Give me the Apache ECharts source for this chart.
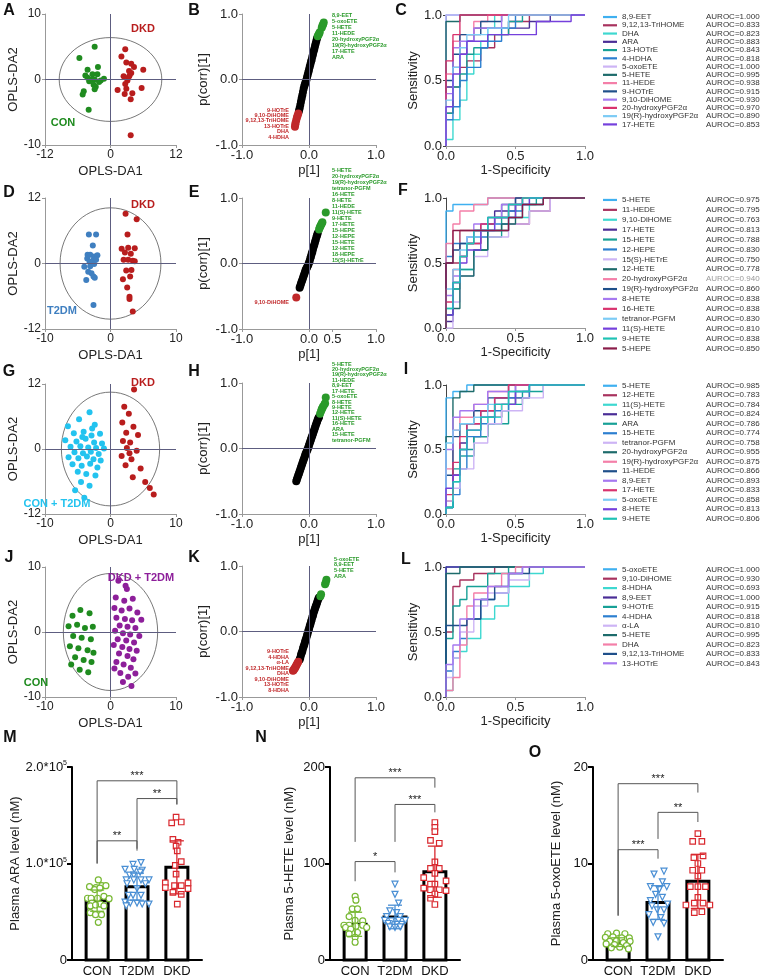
<!DOCTYPE html>
<html>
<head>
<meta charset="utf-8">
<title>OPLS-DA, ROC and plasma levels</title>
<script src="https://cdn.jsdelivr.net/npm/echarts@6.0.0/dist/echarts.min.js"></script>
<style>
html, body { margin: 0; padding: 0; background: #fff; }
#main { width: 760px; height: 978px; }
</style>
</head>
<body>
<div id="main"></div>
<script>
var FONT = '"Liberation Sans", Arial, Helvetica, sans-serif';

// ---------- OPLS-DA score plots: [t1, t2] per sample
var scoreA_CON = [[-2.9,5.0],[-5.7,3.3],[-2.3,1.9],[-4.2,1.5],[-3.3,0.8],[-2.4,0.8],[-4.2,0.25],[-3.5,0],[-2.9,0],[-1.8,-0.15],[-1.2,0.1],[-2.1,-0.4],[-3.9,-0.25],[-3.1,-0.8],[-2.7,-1.1],[-2.9,-1.5],[-4.9,-1.8],[-5.1,-2.3],[-4.0,-4.6],[-4.6,0.6]];
var scoreA_DKD = [[2.7,4.6],[2.0,3.5],[2.9,2.6],[3.8,2.4],[4.3,1.9],[6.0,1.5],[3.4,1.3],[3.8,1.0],[3.5,0.6],[3.1,-0.15],[2.7,-0.7],[1.3,-1.6],[2.9,-1.4],[4.0,-2.1],[2.6,-2.2],[3.7,-3.0],[5.7,-1.3],[3.7,-8.5],[3.3,0.3],[2.4,0.5]];
var scoreD_T2DM = [[-3.3,5.3],[-2.2,5.3],[-2.7,3.3],[-3.5,1.6],[-3.1,1.6],[-2.5,1.3],[-2.0,1.5],[-3.55,0.9],[-2.6,0.7],[-2.2,0.7],[-4.0,-0.6],[-3.1,-0.5],[-2.5,-0.1],[-3.4,-1.5],[-2.9,-1.8],[-3.7,-3.0],[-2.4,-2.6],[-2.6,-2.4],[-2.6,-7.6],[-3.2,0.3]];
var scoreD_DKD = [[2.3,9.1],[4.0,8.1],[2.6,5.3],[1.7,2.7],[2.7,2.9],[3.7,2.8],[2.0,0.7],[2.7,0.7],[3.4,0.5],[3.7,0.4],[2.4,-1.3],[3.2,-1.2],[1.9,-2.9],[3.0,-2.4],[2.55,-4.4],[2.9,-6.1],[2.9,-6.5],[3.4,-8.8],[2.2,2.0],[3.1,1.8]];
var scoreG_CT = [[-6.5,4.2],[-4.8,5.5],[-3.2,6.8],[-2.4,4.5],[-5.6,2.9],[-4.1,3.2],[-2.9,2.5],[-1.6,2.8],[-6.9,1.6],[-5.2,1.4],[-3.8,1.9],[-2.5,1.2],[-1.3,1.0],[-6.1,0.4],[-4.6,0.5],[-3.4,0.3],[-2.2,0.2],[-1.0,0.1],[-5.5,-0.6],[-4.2,-0.8],[-3.0,-0.5],[-1.8,-0.9],[-6.4,-1.5],[-4.9,-1.7],[-3.6,-1.4],[-2.6,-1.9],[-1.5,-2.1],[-5.8,-2.8],[-4.4,-3.1],[-3.1,-2.7],[-2.0,-3.4],[-5.0,-4.2],[-3.7,-4.6],[-2.3,-4.9],[-4.5,-6.1],[-3.2,-6.8],[-5.4,-7.6],[-4.0,-9.0],[-2.8,3.8],[-4.3,2.2]];
var scoreG_DKD = [[3.6,11.0],[2.1,7.8],[2.8,6.5],[1.8,4.9],[3.5,4.1],[2.4,3.0],[4.2,2.6],[1.9,1.5],[3.0,1.2],[2.5,0.2],[4.0,-0.3],[1.7,-1.3],[3.2,-1.9],[2.3,-3.0],[4.6,-3.6],[3.4,-5.2],[5.3,-6.1],[6.0,-7.2],[6.6,-8.4],[2.9,-0.8]];
var scoreJ_CON = [[-5.8,2.5],[-4.6,3.4],[-3.2,2.9],[-6.4,0.9],[-5.1,1.1],[-3.9,0.6],[-2.7,0.8],[-5.7,-0.6],[-4.4,-0.9],[-3.0,-1.1],[-6.2,-2.2],[-4.9,-2.5],[-3.5,-2.8],[-5.4,-3.9],[-4.1,-4.3],[-2.9,-4.6],[-4.7,-5.8],[-3.4,-6.2],[-6.0,-5.0],[-2.6,-3.2]];
var scoreJ_DT = [[1.2,7.9],[2.5,6.6],[0.8,5.3],[2.1,4.8],[3.4,5.1],[0.6,3.7],[1.7,3.3],[2.9,3.6],[4.1,3.0],[0.9,2.2],[2.2,2.0],[3.3,1.8],[1.4,1.0],[2.6,0.8],[3.8,0.6],[0.7,0.2],[1.9,-0.2],[3.0,-0.4],[4.4,-0.6],[1.1,-1.1],[2.4,-1.3],[3.6,-1.6],[0.5,-2.0],[1.8,-2.3],[2.9,-2.6],[4.0,-2.9],[1.3,-3.3],[2.6,-3.7],[3.5,-4.2],[0.9,-4.6],[2.0,-5.0],[3.1,-5.5],[1.5,-6.3],[2.7,-6.9],[1.9,-7.7],[3.8,-6.4],[0.6,-5.6],[4.7,1.9],[3.2,-8.3],[2.3,7.1]];
// Hotelling T2 ellipse half-axes [t1, t2]
var ellA = [9.4, 6.4], ellD = [7.7, 10.2], ellG = [7.5, 10.5], ellJ = [7.2, 9.0];

// ---------- S-plots: [p[1], p(corr)[1]]
var splotB_all = [[-0.15,-0.48],[-0.14,-0.44],[-0.13,-0.39],[-0.12,-0.34],[-0.11,-0.29],[-0.10,-0.24],[-0.09,-0.19],[-0.08,-0.14],[-0.07,-0.10],[-0.06,-0.07],[-0.05,-0.04],[-0.04,-0.01],[-0.03,0.03],[-0.02,0.07],[-0.01,0.11],[0.00,0.15],[0.01,0.19],[0.02,0.23],[0.03,0.27],[0.04,0.30],[0.05,0.35],[0.06,0.39],[0.07,0.43],[0.08,0.47],[0.09,0.51],[0.10,0.55],[0.11,0.59],[0.12,0.63]];
var splotB_down = [[-0.21,-0.72],[-0.205,-0.69],[-0.20,-0.66],[-0.19,-0.62],[-0.18,-0.58],[-0.17,-0.55],[-0.16,-0.52]];
var splotB_up = [[0.13,0.66],[0.14,0.68],[0.15,0.70],[0.16,0.72],[0.19,0.79],[0.20,0.82],[0.21,0.84],[0.22,0.87]];
var splotE_all = [[-0.14,-0.37],[-0.13,-0.34],[-0.12,-0.31],[-0.11,-0.28],[-0.10,-0.25],[-0.09,-0.22],[-0.08,-0.19],[-0.07,-0.16],[-0.06,-0.13],[-0.05,-0.10],[-0.04,-0.08],[-0.03,-0.06],[-0.02,-0.04],[-0.01,-0.02],[0,0.01],[0.01,0.04],[0.02,0.08],[0.03,0.11],[0.04,0.15],[0.05,0.18],[0.06,0.22],[0.07,0.26],[0.08,0.29],[0.09,0.33],[0.10,0.36],[0.11,0.40],[0.12,0.43],[0.13,0.46]];
var splotE_down = [[-0.19,-0.52]];
var splotE_up = [[0.15,0.52],[0.16,0.55],[0.17,0.57],[0.18,0.59],[0.19,0.61],[0.20,0.63],[0.25,0.78]];
var splotH_all = [[-0.19,-0.50],[-0.18,-0.47],[-0.17,-0.44],[-0.16,-0.41],[-0.15,-0.38],[-0.14,-0.35],[-0.13,-0.32],[-0.12,-0.29],[-0.11,-0.26],[-0.10,-0.23],[-0.09,-0.20],[-0.08,-0.17],[-0.07,-0.14],[-0.06,-0.11],[-0.05,-0.08],[-0.04,-0.06],[-0.03,-0.03],[-0.02,-0.01],[-0.01,0.02],[0,0.05],[0.01,0.08],[0.02,0.11],[0.03,0.14],[0.04,0.17],[0.05,0.20],[0.06,0.23],[0.07,0.26],[0.08,0.29],[0.09,0.32],[0.10,0.35],[0.11,0.38],[0.12,0.41],[0.13,0.44],[0.14,0.46],[0.15,0.48]];
var splotH_down = [];
var splotH_up = [[0.165,0.53],[0.18,0.57],[0.19,0.60],[0.20,0.62],[0.21,0.64],[0.23,0.67],[0.24,0.69],[0.25,0.78]];
var splotK_all = [[-0.14,-0.43],[-0.13,-0.40],[-0.12,-0.36],[-0.11,-0.33],[-0.10,-0.30],[-0.09,-0.26],[-0.08,-0.23],[-0.07,-0.20],[-0.06,-0.16],[-0.05,-0.13],[-0.04,-0.10],[-0.03,-0.06],[-0.02,-0.03],[-0.01,0.01],[0,0.04],[0.01,0.08],[0.02,0.11],[0.03,0.15],[0.04,0.18],[0.05,0.22],[0.06,0.25],[0.07,0.29],[0.08,0.32],[0.09,0.35],[0.10,0.38],[0.11,0.41],[0.12,0.44],[0.13,0.47],[0.14,0.50],[0.15,0.52]];
var splotK_down = [[-0.16,-0.46],[-0.17,-0.48],[-0.18,-0.50],[-0.19,-0.52],[-0.20,-0.54],[-0.21,-0.56],[-0.22,-0.57],[-0.23,-0.59],[-0.24,-0.60]];
var splotK_up = [[0.17,0.54],[0.18,0.57],[0.24,0.72],[0.25,0.75],[0.26,0.79]];
var tickE = [-1, 0, 0.35, 1];
var tickE_text = ['-1.0', '0.0', '0.5', '1.0'];
// S-plot variable labels
var labB_up = ['8,9-EET','5-oxoETE','5-HETE','11-HEDE','20-hydroxyPGF2α','19(R)-hydroxyPGF2α','17-HETE','ARA'];
var labB_down = ['9-HOTrE','9,10-DiHOME','9,12,13-TriHOME','13-HOTrE','DHA','4-HDHA'];
var labE_up = ['5-HETE','20-hydroxyPGF2α','19(R)-hydroxyPGF2α','tetranor-PGFM','16-HETE','8-HETE','11-HEDE','11(S)-HETE','9-HETE','17-HETE','15-HEPE','12-HEPE','15-HETE','12-HETE','18-HEPE','15(S)-HETrE'];
var labE_down = ['9,10-DiHOME'];
var labH_up = ['5-HETE','20-hydroxyPGF2α','19(R)-hydroxyPGF2α','11-HEDE','8,9-EET','17-HETE','5-oxoETE','8-HETE','9-HETE','12-HETE','11(S)-HETE','16-HETE','ARA','15-HETE','tetranor-PGFM'];
var labK_up = ['5-oxoETE','8,9-EET','5-HETE','ARA'];
var labK_down = ['9-HOTrE','4-HDHA','α-LA','9,12,13-TriHOME','DHA','9,10-DiHOME','13-HOTrE','8-HDHA'];

// ---------- ROC curves: [1-specificity, sensitivity] corner points
var rocPalette = ['#3fb0f0','#a8325e','#3ed8d0','#4a2d96','#17a096','#2c7fd0','#cdb4f5','#1d6b6b','#f47fa8','#1f4f8a','#a679f0','#d9336e','#7ccbf5','#7540dc','#1fc2b4','#8a1c4a'];
var rocC_names = ['8,9-EET','9,12,13-TriHOME','DHA','ARA','13-HOTrE','4-HDHA','5-oxoETE','5-HETE','11-HEDE','9-HOTrE','9,10-DiHOME','20-hydroxyPGF2α','19(R)-hydroxyPGF2α','17-HETE'];
var rocC_auc = [1.000,0.833,0.823,0.883,0.843,0.818,1.000,0.995,0.938,0.915,0.930,0.970,0.890,0.853];
var rocC_curves = [
  [[0,0],[0,1],[1,1]],
  [[0,0],[0,0.25],[0.05,0.45],[0.1,0.6],[0.15,0.65],[0.25,0.75],[0.35,0.85],[0.45,0.95],[0.6,1],[1,1]],
  [[0,0],[0,0.05],[0.05,0.2],[0.1,0.35],[0.15,0.55],[0.2,0.7],[0.25,0.8],[0.3,0.9],[0.35,1],[1,1]],
  [[0,0],[0,0.45],[0.05,0.6],[0.1,0.7],[0.15,0.8],[0.2,0.9],[0.6,0.95],[0.75,1],[1,1]],
  [[0,0],[0,0.25],[0.05,0.45],[0.1,0.55],[0.15,0.7],[0.2,0.75],[0.3,0.85],[0.45,0.95],[0.55,1],[1,1]],
  [[0,0],[0,0.2],[0.05,0.3],[0.1,0.5],[0.15,0.6],[0.25,0.75],[0.3,0.8],[0.4,0.9],[0.5,1],[1,1]],
  [[0,0],[0,1],[1,1]],
  [[0,0],[0,0.95],[0.1,1],[1,1]],
  [[0,0],[0,0.55],[0.05,0.8],[0.1,0.85],[0.2,0.95],[0.3,1],[1,1]],
  [[0,0],[0,0.5],[0.05,0.7],[0.1,0.85],[0.25,0.95],[0.4,1],[1,1]],
  [[0,0],[0,0.4],[0.05,0.75],[0.1,0.8],[0.2,0.9],[0.4,1],[1,1]],
  [[0,0],[0,0.65],[0.05,0.85],[0.1,1],[1,1]],
  [[0,0],[0,0.35],[0.05,0.6],[0.1,0.75],[0.15,0.85],[0.3,0.9],[0.45,1],[1,1]],
  [[0,0],[0,0.3],[0.05,0.55],[0.1,0.7],[0.15,0.8],[0.3,0.85],[0.65,0.95],[0.9,1],[1,1]]
];
var rocF_names = ['5-HETE','11-HEDE','9,10-DiHOME','17-HETE','15-HETE','12-HEPE','15(S)-HETrE','12-HETE','20-hydroxyPGF2α','19(R)-hydroxyPGF2α','8-HETE','16-HETE','tetranor-PGFM','11(S)-HETE','9-HETE','5-HEPE'];
var rocF_auc = [0.975,0.795,0.763,0.813,0.788,0.830,0.750,0.778,0.940,0.860,0.838,0.838,0.830,0.810,0.838,0.850];
var rocF_curves = [
  [[0,0],[0,0.9],[0.05,0.95],[0.3,1],[1,1]],
  [[0,0],[0,0.5],[0.1,0.75],[0.45,0.8],[0.6,0.9],[0.75,1],[1,1]],
  [[0,0],[0,0.15],[0.05,0.3],[0.1,0.45],[0.2,0.6],[0.3,0.75],[0.45,0.85],[0.6,0.95],[0.7,1],[1,1]],
  [[0,0],[0,0.05],[0.05,0.35],[0.1,0.55],[0.15,0.65],[0.25,0.8],[0.35,0.9],[0.5,1],[1,1]],
  [[0,0],[0,0.1],[0.05,0.3],[0.1,0.45],[0.2,0.6],[0.3,0.7],[0.4,0.85],[0.55,0.95],[0.65,1],[1,1]],
  [[0,0],[0,0.55],[0.05,0.65],[0.15,0.7],[0.3,0.8],[0.45,0.9],[0.55,1],[1,1]],
  [[0,0],[0.05,0.2],[0.1,0.4],[0.2,0.55],[0.3,0.7],[0.45,0.8],[0.6,0.9],[0.75,1],[1,1]],
  [[0,0],[0,0.1],[0.05,0.15],[0.1,0.4],[0.2,0.6],[0.3,0.75],[0.4,0.8],[0.5,0.95],[0.7,1],[1,1]],
  [[0,0],[0,0.65],[0.05,0.8],[0.1,0.9],[0.2,0.95],[0.3,1],[1,1]],
  [[0,0],[0,0.5],[0.05,0.6],[0.1,0.65],[0.2,0.75],[0.3,0.85],[0.4,0.95],[0.5,1],[1,1]],
  [[0,0],[0,0.25],[0.05,0.4],[0.1,0.55],[0.15,0.7],[0.2,0.8],[0.3,0.85],[0.4,0.95],[0.55,1],[1,1]],
  [[0,0],[0,0.2],[0.05,0.45],[0.1,0.55],[0.15,0.65],[0.25,0.8],[0.35,0.85],[0.45,0.95],[0.55,1],[1,1]],
  [[0,0],[0,0.3],[0.05,0.45],[0.1,0.6],[0.15,0.7],[0.25,0.75],[0.35,0.85],[0.45,0.95],[0.6,1],[1,1]],
  [[0,0],[0,0.1],[0.05,0.35],[0.1,0.5],[0.15,0.6],[0.25,0.75],[0.35,0.85],[0.5,0.95],[0.6,1],[1,1]],
  [[0,0],[0,0.15],[0.05,0.35],[0.1,0.55],[0.15,0.65],[0.2,0.75],[0.3,0.85],[0.45,0.95],[0.55,1],[1,1]],
  [[0,0],[0,0.5],[0.05,0.75],[0.45,0.85],[0.55,0.95],[0.7,1],[1,1]]
];
var rocI_names = ['5-HETE','12-HETE','11(S)-HETE','16-HETE','ARA','15-HETE','tetranor-PGFM','20-hydroxyPGF2α','19(R)-hydroxyPGF2α','11-HEDE','8,9-EET','17-HETE','5-oxoETE','8-HETE','9-HETE'];
var rocI_auc = [0.985,0.783,0.784,0.824,0.786,0.774,0.758,0.955,0.875,0.866,0.893,0.833,0.858,0.813,0.806];
var rocI_curves = [
  [[0,0],[0,0.9],[0.05,0.95],[0.15,1],[1,1]],
  [[0,0],[0,0.1],[0.05,0.3],[0.1,0.45],[0.2,0.6],[0.3,0.75],[0.4,0.85],[0.5,0.9],[0.6,1],[1,1]],
  [[0,0],[0,0.05],[0.05,0.25],[0.1,0.45],[0.2,0.6],[0.3,0.75],[0.4,0.85],[0.5,0.95],[0.6,1],[1,1]],
  [[0,0],[0,0.05],[0.05,0.3],[0.1,0.55],[0.15,0.7],[0.25,0.8],[0.35,0.9],[0.5,1],[1,1]],
  [[0,0],[0,0.05],[0.05,0.35],[0.1,0.5],[0.2,0.6],[0.3,0.7],[0.45,0.85],[0.55,0.95],[0.7,1],[1,1]],
  [[0,0],[0,0.05],[0.05,0.15],[0.1,0.35],[0.15,0.6],[0.25,0.7],[0.35,0.8],[0.45,0.9],[0.6,1],[1,1]],
  [[0,0],[0,0.1],[0.05,0.2],[0.1,0.35],[0.2,0.55],[0.3,0.7],[0.4,0.8],[0.55,0.9],[0.7,1],[1,1]],
  [[0,0],[0,0.6],[0.05,0.9],[0.1,0.95],[0.2,1],[1,1]],
  [[0,0],[0,0.35],[0.05,0.65],[0.1,0.75],[0.2,0.85],[0.3,0.95],[0.45,1],[1,1]],
  [[0,0],[0,0.3],[0.05,0.6],[0.1,0.7],[0.2,0.8],[0.3,0.9],[0.45,1],[1,1]],
  [[0,0],[0,0.5],[0.05,0.75],[0.1,0.8],[0.2,0.85],[0.3,0.95],[0.5,1],[1,1]],
  [[0,0],[0,0.15],[0.05,0.4],[0.1,0.6],[0.15,0.7],[0.25,0.8],[0.35,0.9],[0.45,1],[1,1]],
  [[0,0],[0,0.55],[0.05,0.65],[0.1,0.7],[0.2,0.75],[0.3,0.85],[0.45,0.95],[0.6,1],[1,1]],
  [[0,0],[0,0.2],[0.05,0.3],[0.1,0.5],[0.15,0.65],[0.25,0.75],[0.35,0.85],[0.5,0.95],[0.6,1],[1,1]],
  [[0,0],[0,0.05],[0.05,0.25],[0.1,0.5],[0.15,0.65],[0.25,0.75],[0.35,0.85],[0.45,0.95],[0.6,1],[1,1]]
];
var rocL_names = ['5-oxoETE','9,10-DiHOME','8-HDHA','8,9-EET','9-HOTrE','4-HDHA','α-LA','5-HETE','DHA','9,12,13-TriHOME','13-HOTrE'];
var rocL_auc = [1.000,0.930,0.693,1.000,0.915,0.818,0.810,0.995,0.823,0.833,0.843];
var rocL_curves = [
  [[0,0],[0,1],[1,1]],
  [[0,0],[0,0.5],[0.05,0.85],[0.1,0.9],[0.2,0.95],[0.35,1],[1,1]],
  [[0,0],[0,0.05],[0.05,0.3],[0.1,0.35],[0.15,0.45],[0.25,0.6],[0.35,0.7],[0.45,0.85],[0.6,0.95],[0.7,1],[1,1]],
  [[0,0],[0,1],[1,1]],
  [[0,0],[0,0.45],[0.05,0.7],[0.1,0.75],[0.15,0.85],[0.3,0.95],[0.45,1],[1,1]],
  [[0,0],[0,0.2],[0.05,0.35],[0.1,0.45],[0.15,0.6],[0.25,0.75],[0.35,0.8],[0.45,0.95],[0.55,1],[1,1]],
  [[0,0],[0,0.15],[0.05,0.3],[0.1,0.5],[0.2,0.7],[0.3,0.8],[0.45,0.9],[0.6,1],[1,1]],
  [[0,0],[0,0.95],[0.1,1],[1,1]],
  [[0,0],[0,0.05],[0.05,0.15],[0.1,0.4],[0.15,0.7],[0.2,0.8],[0.3,0.85],[0.4,0.95],[0.5,1],[1,1]],
  [[0,0],[0,0.55],[0.15,0.6],[0.25,0.75],[0.35,0.85],[0.45,0.95],[0.6,1],[1,1]],
  [[0,0],[0,0.25],[0.05,0.4],[0.1,0.6],[0.2,0.75],[0.3,0.85],[0.45,0.95],[0.55,1],[1,1]]
];

// ---------- plasma levels: [jitter offset, value] per subject
var groups = ['CON', 'T2DM', 'DKD'];
var araMean = [61500, 76000, 96000], araSD = [11000, 14000, 27500];
var araCON = [[0.03,83000],[-0.19,76000],[-0.03,75000],[0.12,77000],[0.22,77000],[-0.06,73000],[0.07,74500],[-0.24,64000],[-0.15,64000],[0.01,64000],[0.17,66000],[0.30,63500],[-0.13,59000],[0.08,58000],[-0.17,56000],[-0.04,57000],[0.17,56000],[-0.17,49000],[-0.04,47000],[0.11,47000],[0.03,39000]];
var araT2DM = [[0.10,101000],[-0.10,99000],[-0.30,94000],[-0.07,94000],[0.13,93000],[0.08,91000],[-0.19,88000],[-0.08,88000],[-0.27,83000],[-0.08,83000],[0.10,83000],[0.30,83000],[-0.25,79000],[0.21,79000],[0.0,74000],[-0.21,67000],[-0.10,67000],[0.10,67000],[-0.30,60000],[-0.17,59000],[0.0,59000],[0.13,58000],[0.30,58000],[-0.27,56000]];
var araDKD = [[-0.02,148000],[-0.13,142000],[0.11,143000],[-0.10,125000],[0.03,122000],[-0.02,118000],[0.01,113000],[0.11,102000],[-0.04,98000],[-0.02,89000],[-0.29,80000],[-0.29,75000],[-0.06,77000],[0.11,77000],[0.28,80000],[0.28,74000],[-0.10,70000],[0.11,68000],[0.01,58000]];
var hete5Mean = [37, 44.6, 91.5], hete5SD = [12.5, 12.2, 26.5];
var hete5CON = [[0,66],[0.02,62],[-0.07,53],[0.06,53],[-0.15,45],[0,41],[0.19,40.5],[-0.28,36],[-0.15,36],[0.02,35],[0.19,36],[0.29,33.7],[-0.24,33.7],[-0.11,32],[0.06,28.5],[0,23.5],[0,18.4],[-0.15,27]];
var hete5T2DM = [[0,78.6],[0,68],[0.09,59],[-0.13,51],[0.04,49],[-0.21,45],[0.13,45],[-0.26,41],[-0.09,40.5],[0.09,41],[0.26,41],[-0.17,37.8],[0.04,37],[0.17,37],[-0.13,34.4],[0,33.7],[0.13,34.4]];
var hete5DKD = [[0,142.5],[0,137.4],[0,133],[-0.11,124],[0.11,121],[0,101.7],[-0.11,95],[0.11,95],[0,89.8],[-0.28,85.4],[0.28,82],[-0.11,78.6],[0,78.6],[-0.28,74.5],[-0.11,72.8],[0.11,72.8],[0.28,71.8],[0,68.4],[-0.11,64],[0,57.5]];
var oxoMean = [1.85, 5.95, 8.15], oxoSD = [0.45, 1.75, 2.8];
var oxoCON = [[-0.26,2.72],[-0.04,2.78],[0.17,2.72],[-0.32,2.35],[-0.13,2.4],[0.09,2.3],[0.28,2.3],[-0.21,1.94],[-0.04,2.0],[0.13,1.8],[0.3,1.94],[-0.3,1.67],[-0.09,1.6],[0.21,1.5],[-0.17,1.26],[0.04,1.33],[0.26,1.15]];
var oxoT2DM = [[0.15,9.2],[-0.10,8.9],[0.11,8.1],[-0.19,7.6],[0.22,7.6],[0.03,7.3],[-0.06,6.8],[0.11,6.5],[-0.19,6.15],[0.24,5.8],[-0.15,5.6],[-0.02,5.2],[0.15,5.2],[-0.23,4.7],[0.07,4.4],[-0.12,3.9],[0.15,3.8],[0,2.4]];
var oxoDKD = [[0,13.1],[-0.13,12.3],[0.10,12.3],[-0.10,10.6],[0.13,10.8],[0,10.0],[-0.13,9.3],[0.10,9.3],[0,8.7],[-0.19,7.6],[0,7.6],[0.19,7.6],[0,6.5],[-0.09,5.9],[0.13,5.9],[-0.30,5.7],[0.30,5.7],[-0.09,4.9],[0.10,5.0]];
// significance brackets: [group a, group b, bar level, leg end a, leg end b]
var sigM = [[0,2,185700,100000,161200],[1,2,167300,115300,161200],[0,1,123500,100000,113300]];
var starsM = ['***','**','**'];
var sigN = [[0,2,188.8,122.4,178.6],[1,2,161.2,122.4,153],[0,1,102,81.6,90.8]];
var starsN = ['***','***','*'];
var sigO = [[0,2,18.27,4.6,17.35],[1,2,15.3,12.55,14.3],[0,1,11.43,4.6,10.5]];
var starsO = ['***','**','***'];

// ---------- builders
var grids = [], xAxes = [], yAxes = [], series = [], legends = [], graphics = [];
var nameText = {fontSize: 13, color: '#222', fontFamily: FONT};

function addGrid(b) {
  grids.push({left: b[0], top: b[1], width: b[2], height: b[3], containLabel: false});
  return grids.length - 1;
}
function axis(g, color, fs, extra) {
  var a = {
    gridIndex: g, type: 'value', nameLocation: 'middle', nameTextStyle: nameText,
    splitLine: {show: false},
    axisLine: {show: true, onZero: false, lineStyle: {color: color, width: 1}},
    axisTick: {show: true, length: 3, lineStyle: {color: color}},
    axisLabel: {fontSize: fs, color: '#222', fontFamily: FONT, margin: 4}
  };
  return Object.assign(a, extra);
}
function one(v) { return v.toFixed(1); }

var crossLine = {
  silent: true, symbol: ['none', 'none'], label: {show: false}, animation: false,
  lineStyle: {color: '#5d5d80', width: 1, type: 'solid'},
  data: [{xAxis: 0}, {yAxis: 0}]
};

function ellipseItem(params, api) {
  var c = api.coord([api.value(0), api.value(1)]);
  var s = api.size([api.value(2), api.value(3)]);
  return {type: 'ellipse', shape: {cx: c[0], cy: c[1], rx: s[0], ry: s[1]},
    style: {fill: 'none', stroke: '#555', lineWidth: 0.8}};
}

function scorePanel(box, xr, yr, sets, colors, ell) {
  var g = addGrid(box);
  xAxes.push(axis(g, '#999', 12, {min: -xr, max: xr, interval: xr, name: 'OPLS-DA1', nameGap: 20}));
  yAxes.push(axis(g, '#999', 12, {min: -yr, max: yr, interval: yr, name: 'OPLS-DA2', nameGap: 17}));
  series.push({type: 'custom', xAxisIndex: g, yAxisIndex: g, silent: true, z: 1,
    data: [[0, 0, ell[0], ell[1]]], renderItem: ellipseItem});
  sets.forEach(function (pts, i) {
    var s = {type: 'scatter', xAxisIndex: g, yAxisIndex: g, silent: true, z: 3, symbolSize: 6,
      itemStyle: {color: colors[i], opacity: 1}, data: pts};
    if (i === 0) s.markLine = crossLine;
    series.push(s);
  });
}

function splotPanel(box, sets, xTicks, xTickText) {
  var g = addGrid(box);
  var xl = {min: -1, max: 1, interval: 1, name: 'p[1]', nameGap: 19};
  var xa = axis(g, '#999', 13, xl);
  if (xTicks) {
    xa.axisLabel.customValues = xTicks;
    xa.axisLabel.formatter = function (v) { return xTickText[xTicks.indexOf(v)]; };
    xa.axisTick.customValues = xTicks;
  } else {
    xa.axisLabel.formatter = one;
  }
  xAxes.push(xa);
  var ya = axis(g, '#999', 13, {min: -1, max: 1, interval: 1, name: 'p(corr)[1]', nameGap: 32});
  ya.axisLabel.formatter = one;
  yAxes.push(ya);
  var cols = ['#000', '#c0282a', '#2a9a2a'];
  sets.forEach(function (pts, i) {
    var s = {type: 'scatter', xAxisIndex: g, yAxisIndex: g, silent: true, z: 3 + i, symbolSize: 8,
      itemStyle: {color: cols[i], opacity: 1}, data: pts};
    if (i === 0) s.markLine = crossLine;
    series.push(s);
  });
}

function rocPanel(box, key, names, auc, curves, legendTop, step) {
  var g = addGrid(box);
  var xa = axis(g, '#999', 13, {min: 0, max: 1, interval: 0.5, name: '1-Specificity', nameGap: 17});
  xa.axisLabel.formatter = one;
  var ya = axis(g, '#444', 13, {min: 0, max: 1, interval: 0.5, name: 'Sensitivity', nameGap: 24});
  ya.axisLabel.formatter = one;
  xAxes.push(xa); yAxes.push(ya);
  names.forEach(function (n, i) {
    var c = rocPalette[i];
    series.push({type: 'line', name: key + '|' + n, xAxisIndex: g, yAxisIndex: g, data: curves[i],
      step: 'end', symbol: 'none', showSymbol: false, clip: false, silent: true, z: 2,
      lineStyle: {width: 1.4, color: c}, itemStyle: {color: c}});
  });
  legends.push({
    data: names.map(function (n) { return key + '|' + n; }),
    orient: 'vertical', left: 603, top: legendTop, padding: 0, itemGap: 0,
    itemWidth: 14, itemHeight: 2.2, icon: 'rect', selectedMode: false,
    formatter: function (name) {
      var n = name.split('|')[1];
      var v = auc[names.indexOf(n)].toFixed(3);
      var grey = (key === 'F' && n === '20-hydroxyPGF2α');
      return '{n|' + n + '}{' + (grey ? 'g' : 'v') + '|AUROC=' + v + '}';
    },
    textStyle: {fontSize: 8, fontFamily: FONT, color: '#333', lineHeight: step,
      rich: {n: {width: 84, fontSize: 8, fontFamily: FONT, color: '#333', lineHeight: step},
             v: {fontSize: 8, fontFamily: FONT, color: '#333', lineHeight: step},
             g: {fontSize: 8, fontFamily: FONT, color: '#999', lineHeight: step}}}
  });
}

function barItem(params, api) {
  var x = api.value(0), m = api.value(1);
  var top = api.coord([x, m]), base = api.coord([x, 0]);
  var w = 22;
  return {type: 'rect', shape: {x: top[0] - w / 2, y: top[1], width: w, height: base[1] - top[1]},
    style: {fill: '#fff', stroke: '#000', lineWidth: 3}};
}
function errItem(params, api) {
  var x = api.value(0), m = api.value(1), sd = api.value(2);
  var hi = api.coord([x, m + sd]), lo = api.coord([x, m - sd]);
  var st = {stroke: api.visual('color'), lineWidth: 1.3};
  return {type: 'group', children: [
    {type: 'line', shape: {x1: hi[0], y1: hi[1], x2: lo[0], y2: lo[1]}, style: st},
    {type: 'line', shape: {x1: hi[0] - 7, y1: hi[1], x2: hi[0] + 7, y2: hi[1]}, style: st},
    {type: 'line', shape: {x1: lo[0] - 7, y1: lo[1], x2: lo[0] + 7, y2: lo[1]}, style: st}
  ]};
}
function bracketRenderer(stars) {
  return function (params, api) {
    var a = api.coord([api.value(0), api.value(2)]), b = api.coord([api.value(1), api.value(2)]);
    var la = api.coord([api.value(0), api.value(3)]), lb = api.coord([api.value(1), api.value(4)]);
    return {type: 'group', children: [
      {type: 'polyline', shape: {points: [la, a, b, lb]}, style: {stroke: '#555', lineWidth: 1, fill: null}},
      {type: 'text', x: (a[0] + b[0]) / 2, y: a[1] + 1,
        style: {text: stars[params.dataIndex], fill: '#222', font: '11px ' + FONT,
          align: 'center', textAlign: 'center', verticalAlign: 'bottom', textVerticalAlign: 'bottom'}}
    ]};
  };
}

var barColors = ['#78b833', '#4a8fd4', '#d9282e'];
var barSymbols = ['circle', 'triangle', 'rect'];

function barPanel(box, yMax, yStep, yName, nameGap, fmt, means, sds, sets, sig, stars) {
  var g = addGrid(box);
  xAxes.push({gridIndex: g, type: 'value', min: -0.63, max: 2.63, splitLine: {show: false},
    axisLine: {show: true, onZero: false, lineStyle: {color: '#000', width: 2}},
    axisTick: {show: false},
    axisLabel: {customValues: [0, 1, 2], formatter: function (v) { return groups[Math.round(v)]; },
      fontSize: 13, color: '#111', fontFamily: FONT, margin: 5}});
  yAxes.push({gridIndex: g, type: 'value', min: 0, max: yMax, interval: yStep, splitLine: {show: false},
    name: yName, nameLocation: 'middle', nameGap: nameGap, nameTextStyle: nameText,
    axisLine: {show: true, onZero: false, lineStyle: {color: '#000', width: 2}},
    axisTick: {show: true, length: 5, lineStyle: {color: '#000', width: 2}},
    axisLabel: {formatter: fmt, fontSize: 13, color: '#111', fontFamily: FONT, margin: 5,
      rich: {s: {fontSize: 7, fontFamily: FONT, color: '#111', padding: [0, 0, 7, 0]}}}});
  series.push({type: 'custom', xAxisIndex: g, yAxisIndex: g, silent: true, z: 2,
    data: means.map(function (m, i) { return [i, m]; }), renderItem: barItem});
  sets.forEach(function (pts, i) {
    series.push({type: 'scatter', xAxisIndex: g, yAxisIndex: g, silent: true, z: 3,
      symbol: barSymbols[i], symbolRotate: i === 1 ? 180 : 0, symbolSize: i === 2 ? 5.5 : 6,
      itemStyle: {color: '#fff', borderColor: barColors[i], borderWidth: 1.2, opacity: 1},
      data: pts.map(function (p) { return [i + p[0], p[1]]; })});
  });
  series.push({type: 'custom', xAxisIndex: g, yAxisIndex: g, silent: true, z: 4,
    data: means.map(function (m, i) { return {value: [i, m, sds[i]], itemStyle: {color: barColors[i]}}; }),
    renderItem: errItem});
  series.push({type: 'custom', xAxisIndex: g, yAxisIndex: g, silent: true, z: 4, clip: false,
    data: sig, renderItem: bracketRenderer(stars)});
}

function addText(txt, x, y, font, color, align, vAlign, lh) {
  graphics.push({type: 'text', x: x, y: y, silent: true, z: 10,
    style: {text: txt, font: font, fill: color, lineHeight: lh,
      align: align, textAlign: align, verticalAlign: vAlign, textVerticalAlign: vAlign}});
}

// ---------- panels
var GREEN = '#1f8b1f', RED = '#b81d1d', BLUE = '#3f7fc0', CYAN = '#23c3ef', PURPLE = '#8d1f9a';
scorePanel([45, 14, 131, 131], 12, 10, [scoreA_CON, scoreA_DKD], [GREEN, RED], ellA);
splotPanel([242, 14, 134, 131], [splotB_all, splotB_down, splotB_up]);
rocPanel([446, 15, 139, 131], 'C', rocC_names, rocC_auc, rocC_curves, 12.9, 8.26);

scorePanel([45, 198, 131, 131], 10, 12, [scoreD_T2DM, scoreD_DKD], [BLUE, RED], ellD);
splotPanel([242, 198, 134, 131], [splotE_all, splotE_down, splotE_up], tickE, tickE_text);
rocPanel([446, 198, 139, 130], 'F', rocF_names, rocF_auc, rocF_curves, 195, 9.9);

scorePanel([45, 384, 131, 130], 10, 12, [scoreG_CT, scoreG_DKD], [CYAN, RED], ellG);
splotPanel([242, 383, 134, 131], [splotH_all, splotH_down, splotH_up]);
rocPanel([446, 385, 139, 129], 'I', rocI_names, rocI_auc, rocI_curves, 381, 9.5);

scorePanel([45, 567, 131, 130], 10, 10, [scoreJ_CON, scoreJ_DT], [GREEN, PURPLE], ellJ);
splotPanel([242, 566, 134, 131], [splotK_all, splotK_down, splotK_up]);
rocPanel([446, 567, 139, 130], 'L', rocL_names, rocL_auc, rocL_curves, 564.6, 9.4);

barPanel([72, 767, 130, 196], 200000, 100000, 'Plasma ARA level (nM)', 46,
  function (v) { return v === 0 ? '0' : (v / 100000).toFixed(1) + '*10{s|5}'; },
  araMean, araSD, [araCON, araT2DM, araDKD], sigM, starsM);
barPanel([330, 767, 130, 196], 200, 100, 'Plasma 5-HETE level (nM)', 34,
  function (v) { return String(v); },
  hete5Mean, hete5SD, [hete5CON, hete5T2DM, hete5DKD], sigN, starsN);
barPanel([593, 767, 130, 196], 20, 10, 'Plasma 5-oxoETE level (nM)', 30,
  function (v) { return String(v); },
  oxoMean, oxoSD, [oxoCON, oxoT2DM, oxoDKD], sigO, starsO);

// ---------- panel letters
var letterFont = 'bold 16px ' + FONT;
[['A', 9, 11], ['B', 194, 11], ['C', 401, 11], ['D', 9, 193], ['E', 194, 193], ['F', 403, 191],
 ['G', 9, 372], ['H', 194, 372], ['I', 406, 370], ['J', 9, 558], ['K', 194, 558], ['L', 406, 560],
 ['M', 10, 738], ['N', 261, 738], ['O', 535, 753]].forEach(function (l) {
  addText(l[0], l[1], l[2], letterFont, '#111', 'center', 'middle');
});

// ---------- group labels on score plots
var grpFont = 'bold 11px ' + FONT;
addText('DKD', 143, 29, grpFont, RED, 'center', 'middle');
addText('CON', 63, 123, grpFont, GREEN, 'center', 'middle');
addText('DKD', 143, 205, grpFont, RED, 'center', 'middle');
addText('T2DM', 62, 311, grpFont, BLUE, 'center', 'middle');
addText('DKD', 143, 383, grpFont, RED, 'center', 'middle');
addText('CON + T2DM', 57, 504, grpFont, CYAN, 'center', 'middle');
addText('DKD + T2DM', 141, 578, grpFont, PURPLE, 'center', 'middle');
addText('CON', 36, 683, grpFont, GREEN, 'center', 'middle');

// ---------- S-plot variable names
var varFont = 'bold 5.5px ' + FONT, VG = '#2a9a2a', VR = '#c0282a';
addText(labB_up.join('\n'), 332, 12, varFont, VG, 'left', 'top', 6.1);
addText(labB_down.join('\n'), 289, 107.3, varFont, VR, 'right', 'top', 5.4);
addText(labE_up.join('\n'), 332, 167, varFont, VG, 'left', 'top', 6);
addText(labE_down.join('\n'), 289, 299.3, varFont, VR, 'right', 'top', 5.4);
addText(labH_up.join('\n'), 332, 361.3, varFont, VG, 'left', 'top', 5.43);
addText(labK_up.join('\n'), 334, 556.5, varFont, VG, 'left', 'top', 5.6);
addText(labK_down.join('\n'), 289, 649, varFont, VR, 'right', 'top', 5.5);

var chart = echarts.init(document.getElementById('main'), null, {renderer: 'canvas'});
chart.setOption({
  animation: false,
  backgroundColor: '#fff',
  textStyle: {fontFamily: FONT},
  grid: grids, xAxis: xAxes, yAxis: yAxes,
  legend: legends, series: series,
  graphic: {elements: graphics}
});
</script>
</body>
</html>
